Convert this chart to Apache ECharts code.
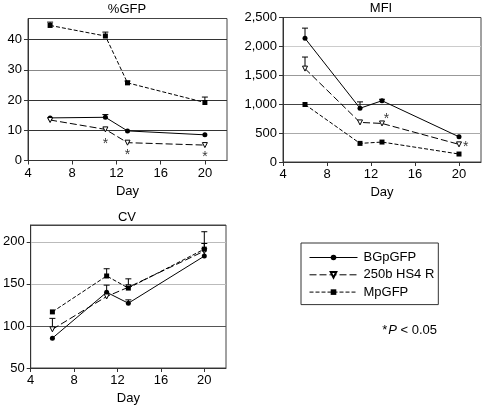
<!DOCTYPE html>
<html><head><meta charset="utf-8">
<script src="https://cdn.jsdelivr.net/npm/echarts@6/dist/echarts.min.js"></script>
<style>html,body{margin:0;padding:0;background:#fff}#c{width:482px;height:406px}</style>
</head><body><div id="c"></div>
<script>
// ---- data ----
const days = [6, 11, 13, 20];
const seriesNames = ['BGpGFP', '250b HS4 R', 'MpGFP'];
const xTicks = [4, 8, 12, 16, 20];

// %GFP
const gfpBG  = [14.1, 14.3, 9.8, 8.5];
const gfpHS4 = [13.4, 10.3, 5.9, 5.1];
const gfpMp  = [44.7, 41.2, 25.7, 19.2];
const gfpBGErr  = [null, 15.2, null, null];
const gfpHS4Err = [null, null, null, null];
const gfpMpErr  = [45.8, 42.5, 26.3, 21.0];
const gfpStarDays = [11, 13, 20];
const gfpStarVals = [6.4, 2.7, 2.1];

// MFI
const mfiBG  = [2140, 930, 1060, 436];
const mfiHS4 = [1616, 685, 667, 305];
const mfiMp  = [995, 322, 345, 138];
const mfiBGErr  = [2316, 1040, 1085, null];
const mfiHS4Err = [1816, null, null, null];
const mfiMpErr  = [null, null, null, null];
const mfiStarDays = [13.4, 20.6];
const mfiStarVals = [800, 315];

// CV
const cvBG  = [85.5, 140, 127, 183];
const cvHS4 = [96, 135, 146, 189];
const cvMp  = [116.7, 159.4, 145, 191.3];
const cvBGErr  = [null, 148.5, 131, 198];
const cvHS4Err = [109, null, null, null];
const cvMpErr  = [null, 168, 156, 212];
const cvStarDays = [];
const cvStarVals = [];

// ---- chart ----
const FONT = "'Liberation Sans', Arial, sans-serif";
const chart = echarts.init(document.getElementById('c'), null, {renderer: 'canvas'});

const grids = [
  {left: 28, top: 18.5, width: 199, height: 142},
  {left: 283, top: 17.5, width: 198, height: 144.5},
  {left: 27, top: 225, width: 199, height: 143}
];
const yCfg = [
  {min: 0, max: 47, interval: 10, showMax: false, colors: ['#444', '#333', '#333', '#888', '#333', '#444'], fmt: v => String(v)},
  {min: 0, max: 2500, interval: 500, showMax: true, colors: ['#444', '#aaa', '#444', '#999', '#ccc', '#444'], fmt: v => v.toLocaleString('en-US')},
  {min: 50, max: 220, interval: 50, showMax: false, colors: ['#444', '#555', '#bbb', '#bbb', '#444'], fmt: v => String(v)}
];
const panelData = [
  {vals: [gfpBG, gfpHS4, gfpMp], errs: [gfpBGErr, gfpHS4Err, gfpMpErr], starX: gfpStarDays, starY: gfpStarVals},
  {vals: [mfiBG, mfiHS4, mfiMp], errs: [mfiBGErr, mfiHS4Err, mfiMpErr], starX: mfiStarDays, starY: mfiStarVals},
  {vals: [cvBG, cvHS4, cvMp], errs: [cvBGErr, cvHS4Err, cvMpErr], starX: cvStarDays, starY: cvStarVals}
];

const styles = [
  {symbol: 'circle', symbolSize: 5, rotate: 0, lineType: 'solid', fill: '#000'},
  {symbol: 'triangle', symbolSize: 5, rotate: 180, lineType: [7, 3], fill: '#fff'},
  {symbol: 'rect', symbolSize: 5, rotate: 0, lineType: [4, 2], fill: '#000'}
];

const xAxes = [], yAxes = [], series = [];
grids.forEach((g, i) => {
  Object.assign(g, {show: true, borderColor: '#444', borderWidth: 1, backgroundColor: 'transparent'});
  xAxes.push({
    type: 'value', gridIndex: i, min: 4, max: 22, interval: 4,
    name: 'Day', nameLocation: 'middle', nameGap: 24,
    nameTextStyle: {fontFamily: FONT, fontSize: 13, color: '#000'},
    axisLine: {show: true, lineStyle: {color: '#333', width: 1}},
    axisTick: {show: true, length: 4, inside: false, lineStyle: {color: '#333'}},
    axisLabel: {fontFamily: FONT, fontSize: 13, color: '#000', margin: 6, showMaxLabel: false,
      formatter: v => xTicks.indexOf(v) >= 0 ? String(v) : ''},
    splitLine: {show: false}
  });
  const yc = yCfg[i];
  yAxes.push({
    type: 'value', gridIndex: i, min: yc.min, max: yc.max, interval: yc.interval,
    axisLine: {show: true, lineStyle: {color: '#333', width: 1}},
    axisTick: {show: true, length: 4, lineStyle: {color: '#333'}},
    axisLabel: {fontFamily: FONT, fontSize: 13, color: '#000', margin: 6, showMaxLabel: yc.showMax, formatter: yc.fmt},
    splitLine: {show: true, lineStyle: {color: yc.colors, width: 1}}
  });
  const pd = panelData[i];
  seriesNames.forEach((nm, k) => {
    const st = styles[k];
    series.push({
      type: 'line', name: nm, xAxisIndex: i, yAxisIndex: i, z: 3,
      data: days.map((d, j) => [d, pd.vals[k][j]]),
      symbol: st.symbol, symbolSize: st.symbolSize, symbolRotate: st.rotate,
      showAllSymbol: true,
      lineStyle: {color: '#000', width: 1, type: st.lineType},
      itemStyle: {color: st.fill, borderColor: '#000', borderWidth: k === 1 ? 1 : 0},
      emphasis: {disabled: true}, animation: false
    });
    const errData = [];
    days.forEach((d, j) => { if (pd.errs[k][j] != null) errData.push([d, pd.vals[k][j], pd.errs[k][j]]); });
    series.push({
      type: 'custom', xAxisIndex: i, yAxisIndex: i, z: 2, animation: false,
      encode: {x: 0, y: [1, 2]},
      data: errData,
      renderItem: (params, api) => {
        const x = api.value(0), lo = api.value(1), hi = api.value(2);
        const p1 = api.coord([x, lo]), p2 = api.coord([x, hi]);
        const w = 3;
        return {type: 'group', children: [
          {type: 'line', shape: {x1: p1[0], y1: p1[1], x2: p2[0], y2: p2[1]}, style: {stroke: '#000', lineWidth: 1}},
          {type: 'line', shape: {x1: p2[0] - w, y1: p2[1], x2: p2[0] + w, y2: p2[1]}, style: {stroke: '#000', lineWidth: 1}}
        ]};
      }
    });
  });
  if (pd.starX.length) {
    series.push({
      type: 'scatter', xAxisIndex: i, yAxisIndex: i, z: 4, animation: false,
      data: pd.starX.map((d, j) => [d, pd.starY[j]]),
      symbolSize: 1, itemStyle: {color: 'rgba(0,0,0,0)'},
      label: {show: true, position: 'inside', formatter: '*', fontFamily: FONT, fontSize: 14, color: '#000', offset: [0, 3]},
      emphasis: {disabled: true}
    });
  }
});

const option = {
  backgroundColor: '#fff',
  animation: false,
  grid: grids, xAxis: xAxes, yAxis: yAxes, series: series,
  legend: {
    data: seriesNames, orient: 'vertical', left: 301, top: 243,
    padding: [8, 4, 6, 8], itemWidth: 48, itemHeight: 7, itemGap: 4.3,
    borderColor: '#333', borderWidth: 1, selectedMode: false,
    lineStyle: {width: 1},
    textStyle: {fontFamily: FONT, fontSize: 13, color: '#000', padding: [0, 0, 0, 1]}
  },
  graphic: [
    {type: 'text', x: 127, y: 9, style: {text: '%GFP', align: 'center', verticalAlign: 'middle', fontFamily: FONT, fontSize: 13, fill: '#000'}},
    {type: 'text', x: 381, y: 8, style: {text: 'MFI', align: 'center', verticalAlign: 'middle', fontFamily: FONT, fontSize: 13, fill: '#000'}},
    {type: 'text', x: 127, y: 217, style: {text: 'CV', align: 'center', verticalAlign: 'middle', fontFamily: FONT, fontSize: 13, fill: '#000'}},
    {type: 'text', x: 437, y: 330, style: {text: '{s|*}{p|P} < 0.05', align: 'right', verticalAlign: 'middle', fontFamily: FONT, fontSize: 13, fill: '#000',
      rich: {s: {fontFamily: FONT, fontSize: 13, padding: [0, 1, 0, 0]}, p: {fontFamily: FONT, fontSize: 13, fontStyle: 'italic'}}}}
  ]
};
chart.setOption(option);
</script></body></html>
